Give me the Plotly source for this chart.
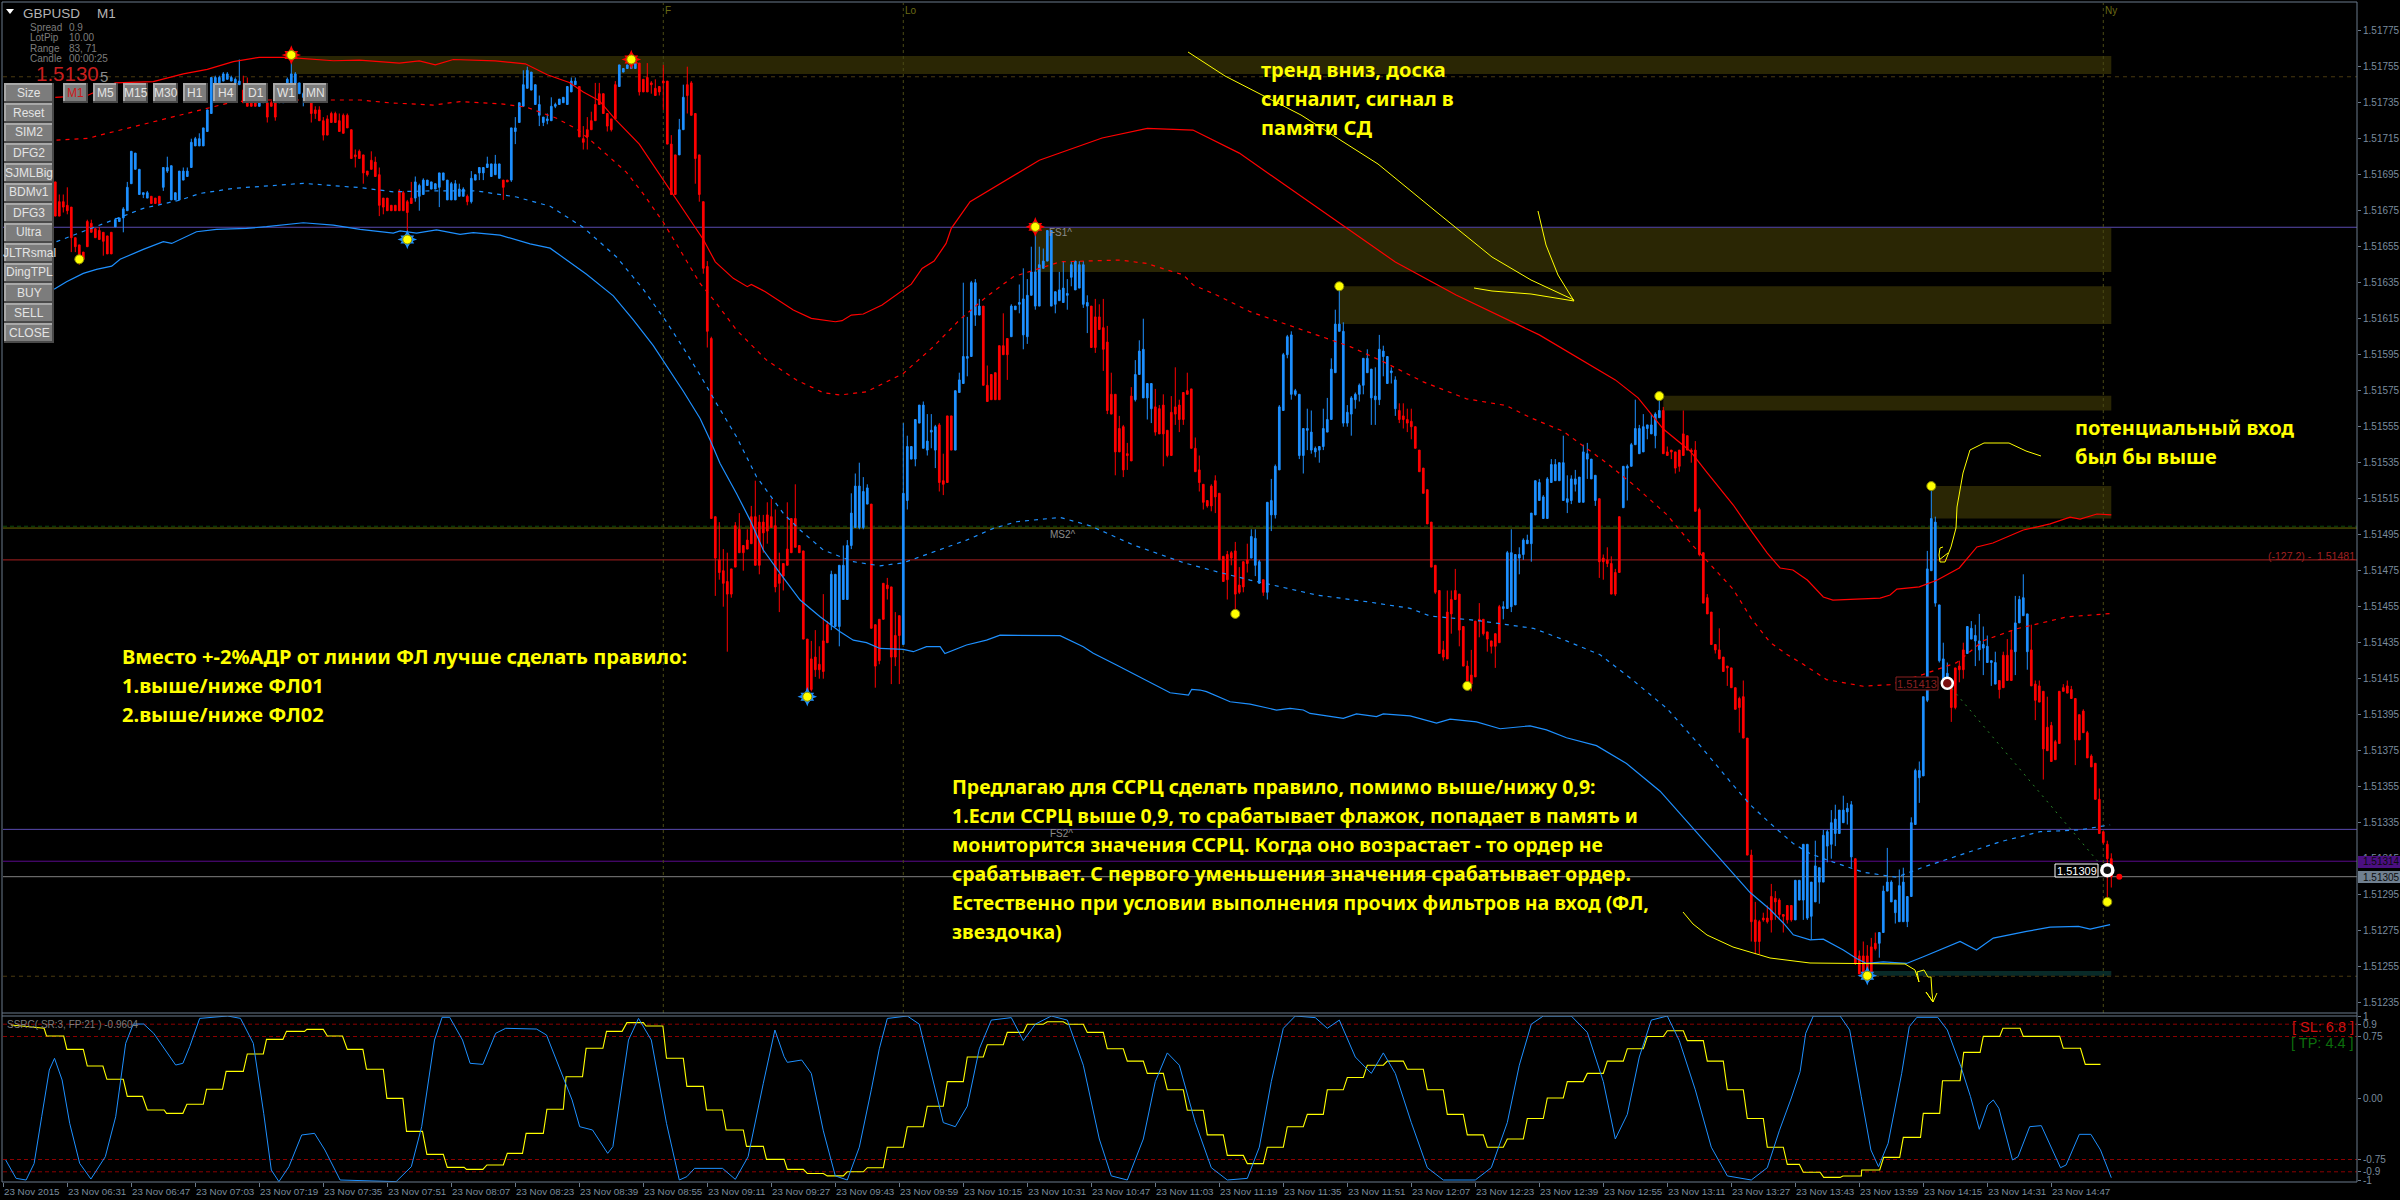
import numpy as np
import plotly.graph_objects as go

W, H = 2400, 1200
BASE = 1.51

# M1 bars from index 13 on, price in points above 1.51000
bar_first = 13
open_pts = [691,680,680,678,677,660,656,652,669,668,665,664,663,661,663,666,669,671,675,690,698,684,684,682,683,682,683,688,697,681,681,681,692,694,699,711,711,711,719,729,746,746,747,748,747,746,745,742,742,738,738,733,735,735,735,735,735,735,746,745,745,740,738,736,735,731,731,725,726,729,729,725,728,728,720,706,708,706,697,703,702,695,682,682,678,678,686,685,680,682,682,683,684,689,687,687,688,692,681,681,681,683,683,683,680,692,696,696,699,694,695,693,692,692,692,719,724,733,743,742,734,728,724,725,725,733,734,735,734,741,745,744,715,720,725,734,740,740,729,726,745,744,752,754,754,754,757,748,749,746,743,744,747,747,712,706,706,720,745,746,729,706,680,644,604,505,481,475,469,476,500,498,489,492,505,505,502,502,506,505,500,473,479,487,504,504,489,486,437,426,427,423,436,445,445,444,444,459,459,489,499,499,499,512,512,445,448,468,467,466,439,450,434,514,537,537,557,543,542,552,542,556,525,561,561,542,574,579,593,594,617,617,622,578,584,585,600,600,604,605,620,623,606,605,628,622,622,643,647,622,623,625,624,628,638,631,632,623,622,622,616,616,610,602,573,573,554,555,540,572,570,584,571,571,565,566,565,567,553,563,566,567,574,575,576,543,531,523,514,522,525,518,483,484,485,486,467,480,481,482,478,468,470,463,506,506,531,564,595,573,573,539,539,553,542,541,542,544,552,559,585,608,557,557,562,570,573,578,585,571,570,570,594,579,585,565,564,561,559,558,555,542,532,520,502,478,464,431,452,459,464,462,444,422,417,447,448,448,441,436,440,455,454,454,455,456,482,484,490,490,506,514,504,504,524,525,525,514,513,514,523,513,513,537,526,514,515,482,481,479,474,505,510,532,533,545,540,541,554,551,550,560,564,541,542,541,542,551,550,542,542,509,485,460,452,434,431,427,422,421,410,404,405,382,317,281,280,282,282,294,293,292,284,289,289,281,292,292,282,283,291,302,302,322,323,329,329,335,341,316,315,261,261,261,266,268,268,274,297,291,285,280,280,280,294,334,360,361,403,475,457,425,414,413,413,421,422,431,429,437,436,431,432,424,424,412,414,428,428,431,430,446,450,430,431,412,411,408,388,389,380,408,410,411,409,404,395,397,385,372,368,348,330,323,315]
high_pts = [691,684,684,688,677,660,656,652,670,670,665,666,663,661,663,671,671,677,691,708,707,698,685,686,683,682,683,699,705,700,685,697,699,699,715,716,718,721,731,749,750,750,752,752,750,749,759,750,749,740,740,740,741,737,736,736,739,743,749,762,752,746,741,742,735,733,733,727,728,730,730,729,729,729,720,709,709,706,697,708,705,699,682,682,678,678,687,686,681,691,694,690,693,692,691,690,696,696,692,691,692,690,688,684,697,695,699,699,705,701,706,701,692,692,721,727,735,753,755,752,745,739,727,729,738,735,737,738,744,749,749,744,722,727,730,746,746,740,729,726,747,756,754,756,759,757,757,748,757,747,748,744,756,747,717,706,726,745,755,747,729,706,680,647,605,505,502,487,485,476,502,507,489,498,511,525,506,506,513,515,509,485,479,513,504,523,489,486,437,436,442,433,462,447,475,473,478,489,492,518,529,535,527,523,512,445,448,468,471,466,452,450,557,550,544,559,567,569,562,562,556,557,540,561,561,575,585,635,616,636,637,626,622,589,584,585,600,618,604,623,622,634,643,637,655,665,655,654,664,664,630,641,647,637,647,647,647,647,628,622,626,623,626,611,585,573,561,556,546,577,592,603,615,579,579,576,567,573,553,572,588,570,574,585,576,549,539,523,514,523,528,518,483,486,486,491,477,480,490,498,498,481,470,513,526,534,567,596,606,608,576,573,554,565,564,544,544,565,571,593,620,632,613,567,572,574,579,593,598,587,588,606,600,594,588,583,568,568,565,565,555,542,532,520,502,478,464,436,464,464,476,462,444,425,431,447,457,448,441,436,440,456,458,486,498,484,488,493,495,507,525,526,517,527,537,537,535,550,528,528,531,527,545,546,537,528,515,484,488,483,476,505,533,534,546,570,556,562,556,562,563,572,566,544,542,541,542,564,550,543,547,510,485,462,452,434,443,427,422,421,410,405,414,382,320,291,281,285,289,301,297,293,284,289,289,303,303,323,323,302,325,310,331,331,342,345,342,350,346,347,315,264,269,267,271,274,274,300,321,303,292,309,310,294,338,365,369,405,486,520,505,456,435,424,413,421,425,435,444,447,445,451,444,439,425,430,414,430,437,442,461,461,473,451,445,414,414,408,405,391,381,408,412,414,411,404,395,398,386,373,368,354,330,325,318]
low_pts = [672,672,674,673,652,652,645,648,655,663,660,659,650,651,651,666,669,663,675,690,698,684,682,682,679,679,679,686,696,681,681,681,692,694,699,711,711,711,719,729,746,746,747,748,747,746,745,735,733,733,733,733,735,724,733,725,735,735,746,745,745,740,733,736,724,726,725,714,717,724,724,719,718,721,704,699,704,690,694,698,694,672,673,675,675,675,675,675,658,679,680,675,684,689,687,687,677,692,681,681,681,683,683,678,679,692,692,692,699,694,695,693,681,691,691,712,724,733,743,742,734,722,722,723,725,732,734,735,734,741,745,716,709,709,720,725,734,729,719,719,726,744,752,754,754,754,739,741,741,740,739,739,731,712,684,684,706,720,729,728,690,680,640,599,504,461,470,455,430,460,477,485,475,487,490,478,473,485,490,499,463,452,464,478,485,488,485,437,405,408,416,415,415,435,442,444,433,459,459,487,499,498,498,512,443,410,423,448,459,412,422,412,434,509,537,533,557,543,539,543,532,519,517,524,542,542,574,579,583,594,611,617,578,569,570,570,570,595,581,605,620,618,598,601,628,620,622,643,647,622,618,625,624,620,633,631,632,621,607,599,596,609,586,562,562,528,541,527,531,536,569,584,571,559,557,550,551,533,538,539,556,552,556,573,543,530,519,509,510,508,507,481,469,459,478,451,462,463,474,482,472,468,461,459,497,504,531,564,593,570,572,537,529,542,540,538,535,542,552,559,585,608,555,555,550,565,569,573,585,556,556,567,583,579,579,561,557,554,552,548,543,530,518,501,477,462,429,425,426,440,459,433,422,410,408,416,438,439,430,429,421,435,448,454,452,456,473,481,490,480,506,514,504,504,524,525,525,514,507,512,519,513,513,526,526,511,471,470,477,462,461,474,510,514,533,545,540,541,548,551,543,560,540,539,537,529,530,539,542,535,508,483,457,451,434,429,426,419,411,410,398,385,382,317,269,262,262,280,279,274,281,281,274,279,280,281,292,281,281,270,291,290,302,313,315,322,329,335,334,310,256,251,251,250,252,264,260,274,297,291,279,280,280,277,294,334,346,361,402,475,455,424,411,411,391,398,413,415,429,437,422,425,417,424,411,412,404,410,414,414,417,446,450,420,411,392,402,359,375,369,370,379,408,407,404,367,381,385,371,366,348,329,323,289,299]
close_pts = [672,672,677,675,660,655,648,648,655,663,660,659,658,651,651,670,671,676,688,708,707,698,685,685,679,679,679,699,699,700,685,697,697,697,713,715,715,721,731,749,749,749,751,751,749,748,747,735,733,733,733,738,740,727,733,727,738,742,748,751,751,746,740,742,729,729,725,717,717,724,724,719,718,721,704,705,704,696,695,698,694,678,677,675,675,675,675,675,674,679,691,689,692,692,691,690,696,696,692,690,690,687,687,680,693,695,699,699,701,701,701,701,688,691,721,721,735,745,753,752,745,734,727,726,733,734,737,738,744,747,747,716,713,716,720,725,734,729,722,720,726,756,754,756,759,757,741,741,741,745,739,741,746,712,684,684,720,738,739,728,704,684,643,608,504,482,474,468,462,462,477,485,485,487,490,478,478,496,497,499,466,468,472,478,485,488,485,437,408,409,420,420,419,435,473,473,478,478,489,507,522,522,519,521,443,422,425,448,465,427,427,439,518,544,544,559,567,567,547,553,555,524,523,524,542,575,581,594,594,635,635,622,578,569,570,570,570,595,595,622,622,624,626,628,641,641,645,647,664,664,630,631,632,629,645,647,645,645,624,599,599,609,598,564,562,541,541,531,539,536,584,597,598,579,579,552,551,551,539,539,562,559,559,573,543,530,524,513,511,511,516,481,469,470,482,462,463,466,479,494,493,480,463,513,514,533,566,595,605,606,575,573,554,554,552,543,544,554,559,587,612,612,608,563,571,573,578,593,593,587,572,598,597,594,586,581,559,559,557,555,543,530,518,501,477,463,429,427,426,451,459,442,422,412,412,416,447,440,437,433,433,435,455,485,485,484,484,492,492,507,525,524,516,526,534,534,535,535,515,526,526,527,541,540,537,528,480,480,479,462,462,474,533,533,545,554,554,555,556,556,562,564,540,539,541,532,533,539,542,541,508,484,457,451,434,431,426,419,421,410,398,399,382,317,280,269,269,281,280,281,291,284,283,281,281,303,303,323,323,302,311,310,328,330,335,337,342,342,343,345,257,251,252,252,252,265,274,297,302,302,292,300,302,294,335,364,364,405,476,504,502,456,426,418,399,399,420,420,444,443,439,436,434,433,425,424,409,410,414,414,446,459,460,451,411,403,402,376,375,369,370,379,408,407,404,381,381,385,371,366,348,329,324,315,305]

# Bands drawn around the session, as (bar, points) pairs
upper_x = [13,21,28,37.5,45,51,57.5,64,71,82.5,89,95,99,104,108,112.5,123,130.5,136,141.5,145,149,153,159,163,170,175,178,182.5,186,187,190.5,192.5,197.5,202,208,209.7,212,215,219.7,227,229.7,232.7,235.7,237,241.7,259,274.7,286,297.4,309,324,348,363.2,384,403,408.7,415,421.7,426,432.5,436.7,441,444.2,447.4,451,455,457.4,469.2,471.7,473.4,479,483.5,489,493.4,497.4,505,511.7,516.7,519.2,523.4,527]
upper_y = [738,739,746,746.7,751,753.5,757.8,760.2,760.2,758.3,758.7,757.8,757,758.2,756,759,758.2,756.6,750.5,746.2,740.9,736.1,725.7,712,698.7,675.8,659,646.6,637.4,632.8,634,630,627.2,619.8,615.2,613.3,613.9,617,617.6,622.6,634.2,642.9,647,656.8,665.2,680,703,715.4,720.7,719.8,707,683.7,646.5,628.2,606,581,571,553.7,541.5,529.3,511.5,498,484.8,476.5,475.4,469.8,460.4,458.7,459.8,461.5,464.8,466,469.8,476.5,488.2,490.4,497.6,501,504.8,503.7,506.5,506]
upper_mid_x = [13.3,21.2,24.2,34.2,50.8,57.5,65.8,89.2,96.7,107.5,114.2,124.2,130.8,138.3,143.3,146.7,155.8,160,165,174.2,178.3,183.3,190.8,198.3,205,209.2,215.8,225,232.5,239,245.8,252.5,264.2,279.2,285.8,295,297.5,303.3,311.7,320,328.3,336.7,345,351.7,355,365.8,375.8,381.7,390,400.8,407.5,415.8,422.5,432.5,437,441.7,445.8,450,455.8,465,471.7,480,488.3,495,503.3,515.8,526.7]
upper_mid_y = [714.2,715.2,717,722.6,731.8,735.5,736.5,736.5,734.9,733.7,735.6,734.4,732.5,726.4,720.4,714.4,696.3,684.3,668.6,634.6,623.5,608.7,592,580.9,573.9,572.6,574.4,584.6,599.4,614.2,627.2,638.3,646.6,647.6,645.7,639.3,633.7,628.2,618.9,612.4,605.9,599.5,591.1,583.7,579.9,570.5,566.7,560.1,552.4,534.9,522.8,506.3,488.7,464.6,448.4,435.2,428.6,423,414.5,410.8,411.7,417.4,423.9,436.1,442.7,449.3,451.2]
lower_mid_x = [13.3,19.6,24.2,35,44.2,49.2,57.5,65.8,75,89.2,97.5,106.7,118.3,128.3,136.7,145,153.3,160,165.8,170,174.2,178.3,183.3,188.3,195,199.2,205,212.5,219.2,225,232.5,240.8,247.5,253.3,264.2,271.7,282.5,295,303.3,311.7,320,328.3,340.8,351.7,356.7,368.3,382.5,390.8,399.2,407.5,415.8,424.2,432.5,436.7,441.7,447.5,451.7,457.5,465,473.3,480,490,499.2,509.2,519.2,526.7]
lower_mid_y = [657.8,663.3,667,676.3,680.9,684.6,687.4,688.9,690.2,687.8,685.5,686,686,682.6,677.5,665.7,649.3,631.3,613.2,598.8,583.7,567.9,549.4,527.2,506.8,497.6,486.5,480,477.7,479.4,485.2,492,498.5,502.2,504.6,500,489.3,479.5,474.5,469.8,465.7,461.5,457.8,454.1,449.8,447.4,443,436,428.3,414,398.7,377.8,355.8,345,334.7,323.4,317.8,313.1,307.5,304.7,310.3,317.8,324.4,330,331,333.8]
lower_x = [12.7,15.8,20,23.3,27.1,29.2,35,40,42.1,48.3,53.3,60.8,65.8,75,82.5,89.2,97.5,99.2,103.3,108.3,114.2,117.5,124.2,131.7,136.7,141.7,145.8,152.5,157.5,162.5,170,174.2,176.7,179.2,183.3,186.7,190,194.2,199.2,204.2,209.2,212.5,215.8,219.2,225,227.5,230.8,234.2,235.4,240.8,245.8,249.2,257.5,264.2,270,272.5,278.3,286.7,291.7,296.3,297.1,299.2,300.8,306.7,311.7,318.3,321.7,325,326.7,335,338.3,343.3,345,351.7,358.3,361.7,368.3,374.2,381.7,385.8,390.8,398.3,405.8,414.2,422.5,432.5,436.7,441.7,445,447.5,451.7,455,460,463.3,465.8,470,475.8,480,489.2,493.3,497.5,505.8,511.7,518.8,521.7,526.7]
lower_y = [631.3,635.5,640.2,642.4,644.2,648,653.5,657.8,656.8,663.3,664.6,665.2,666.1,668.3,667,664.6,662.6,663.8,662.6,664.3,661.9,662.8,661.4,656.6,654.2,646.5,639.7,627.7,614.4,600,574.7,559.6,547.6,534.6,517.9,503.1,486.5,473.5,458.7,449.4,441.1,436.4,435,431.8,431.3,430,432.8,432.8,429,433.7,436.4,439.2,438.9,438.9,432.8,429.1,422.6,413,407.2,405.9,409.1,408.7,407.8,402.2,400.9,397.6,398.5,397.6,395.7,393,395.4,393.9,395.4,394.3,390.3,392.5,391,387.2,388.8,386.6,382.2,377.8,367.9,352.5,331.7,306.4,296.2,286.8,279.3,272.7,269.9,270.3,264.3,259.6,256.8,257.7,256.8,260.5,269,264.3,270.9,274.6,277,277.4,275.9,278.4]

# Oscillator panel
osc_blue_x = [0.6,3.2,5.7,7.7,9.6,11.5,12.8,14.7,16.6,19.1,21.9,25.5,28.1,30.6,32.5,35.1,37.6,41.5,43.1,44.9,46.6,49.1,56.1,59.3,62.5,65.1,67,68.9,71.4,74.6,77.8,80.4,84.2,98.2,102,104.6,107.8,109.7,111.6,114.8,116.7,119.9,123.1,125.6,133.3,135.8,139,142.2,144.1,147.3,151.1,152.4,156.3,158.8,162,165.8,169,170.9,172.8,179.8,183,186.2,190,192.9,195.2,196,199.6,202,205,208,211,214,217,219,221,226,229,232,235,238,241,244,247,252,255,258,262,266,270,274,277,281,285,288,291,294,298,302,306,311,314,317,320,323,328,331,334,338,342,345,348,352,356,360,368,372,376,379,382,385,392,396,400,403,406,409,412,416,419,423,427,431,437,441,444,447,449.2,450.6,452.5,459.2,461.6,464.5,466.9,468.8,471.2,474.6,476.5,478.4,483.6,486,489.4,491.8,494,496.1,497.5,498.9,502.3,503.7,506.6,509.5,514.3,515.7,519,521.9,524.3,527]
osc_blue_y = [-0.756,-0.98,-1.0,-0.8,-0.228,0.341,0.484,0.22,-0.309,-0.797,-0.988,-0.716,-0.228,0.667,0.902,0.902,0.789,0.504,0.402,0.423,0.626,0.971,1.0,0.971,0.667,-0.187,-0.878,-1.02,-0.838,-0.451,-0.431,-0.634,-1.0,-1.02,-0.838,-0.35,0.707,0.984,0.984,0.707,0.423,0.41,0.789,0.85,0.841,0.768,0.382,-0.024,-0.35,-0.39,-0.675,-0.593,0.707,0.971,0.707,-0.309,-1.0,-0.959,-0.858,-0.858,-0.992,-0.716,0.179,0.829,0.504,0.435,0.463,0.3,-0.4,-0.95,-1,-0.6,0.1,0.6,0.97,1,0.9,0.3,-0.3,-0.35,-0.1,0.6,0.95,0.98,0.7,0.9,1,0.95,0.4,-0.5,-0.95,-1,-0.5,0.2,0.55,0.4,-0.3,-0.85,-1,-0.98,-0.6,0.2,0.85,1,0.98,0.85,0.95,0.5,0.3,0.55,0.3,-0.3,-0.85,-1,-1,-0.85,-0.3,0.4,0.9,1,1,0.8,0.2,-0.5,-0.2,0.5,0.95,1,0.7,0.1,-0.6,-0.95,-1,-0.85,-0.4,0,0.321,0.789,1.0,1.0,0.829,0.016,-0.634,-0.837,-0.553,0.301,0.87,0.984,0.984,0.829,0.382,0.016,-0.382,-0.085,-0.024,-0.126,-0.756,-0.715,-0.35,-0.337,-0.85,-0.817,-0.443,-0.443,-0.634,-0.972]
osc_yellow_x = [1.9,10.2,10.8,15.1,15.9,20,21,24.9,25.9,30,31,34.8,36,40.2,40.8,44.9,45.9,50,50.8,54.8,55.7,60,61,65,65.8,69.9,70.8,75.3,75.9,80,81,84.8,86,89.9,90.8,95,95.9,99.9,100.8,104.8,105.9,110,111,115.2,115.8,119.9,120.9,125,126,129.8,130.7,135,135.9,140,140.7,144.8,145.7,149.9,150.8,154.7,155.9,160,160.7,164.9,165.8,170,170.9,175,175.8,179.8,180.7,185,185.8,190,190.8,195.2,196,200,
                201,205,206,210,211,215,216,220,221,225,226,230,231,235,236,240,241,245,246,250,251,255,256,260,261,265,266,270,271,275,276,280,281,285,286,290,291,295,296,300,301,305,306,310,311,315,316,320,321,325,326,330,331,335,336,340,341,345,346,350,351,355,356,360,361,365,366,370,371,375,376,380,381,385,386,390,391,395,396,400,401,405,406,410,411,415,416,420,421,425,426,430,431,435,436,440,441,445,446,449,
                450,454.2,455.1,459.2,459.9,464.5,464.6,469.1,470.1,474.1,475,479.3,480,484.1,484.8,489.2,490.1,494.2,495,499.1,499.9,504.2,505,514.1,515,519.3,520.5,524.3,525.1,527]
osc_yellow_y = [0.89,0.85,0.756,0.756,0.593,0.593,0.39,0.39,0.228,0.228,0.02,0.02,-0.146,-0.146,-0.187,-0.187,-0.077,-0.077,0.106,0.106,0.325,0.325,0.537,0.537,0.715,0.715,0.813,0.813,0.837,0.837,0.756,0.756,0.593,0.593,0.35,0.35,-0.004,-0.004,-0.407,-0.407,-0.687,-0.687,-0.846,-0.846,-0.87,-0.87,-0.817,-0.817,-0.675,-0.675,-0.431,-0.431,-0.138,-0.138,0.26,0.26,0.606,0.606,0.813,0.813,0.919,0.919,0.878,0.878,0.484,0.484,0.142,0.142,-0.146,-0.146,-0.39,-0.39,-0.59,-0.59,-0.748,-0.748,-0.87,-0.87,
                -0.92,-0.92,-0.95,-0.95,-0.9,-0.9,-0.85,-0.85,-0.6,-0.6,-0.35,-0.35,-0.1,-0.1,0.2,0.2,0.5,0.5,0.65,0.65,0.8,0.8,0.9,0.9,0.93,0.93,0.9,0.9,0.8,0.8,0.6,0.6,0.45,0.45,0.3,0.3,0.1,0.1,-0.15,-0.15,-0.45,-0.45,-0.7,-0.7,-0.8,-0.8,-0.6,-0.6,-0.35,-0.35,-0.2,-0.2,0.1,0.1,0.25,0.25,0.4,0.4,0.45,0.45,0.35,0.35,0.1,0.1,-0.2,-0.2,-0.45,-0.45,-0.6,-0.6,-0.5,-0.5,-0.25,-0.25,0,0,0.2,0.2,0.3,0.3,0.45,0.45,0.6,0.6,0.75,0.75,0.82,0.82,0.7,0.7,0.45,0.45,0.1,0.1,-0.25,-0.25,-0.6,-0.6,
                -0.809,-0.809,-0.906,-0.906,-0.968,-0.968,-0.951,-0.951,-0.878,-0.878,-0.724,-0.724,-0.48,-0.48,-0.187,-0.187,0.211,0.211,0.557,0.557,0.752,0.752,0.85,0.85,0.752,0.752,0.606,0.606,0.41,0.41]

# Supply and demand zones: start bar, end bar, bottom, top (points)
zone_start = [72,258,334,415,482]
zone_bottom = [751,641,612,564,504]
zone_top = [761,665.4,633,572.2,522]
zone_end_bar = 527
demand_start, demand_bottom, demand_top = 467, 250, 252.6

# Horizontal levels (points)
fs_levels = [665.8, 331.3]
ms_level = 498.7
ms_dash_level = 499.7
fib_level = 481
pivot_level = 313.6
bid_level = 305
swing_high_level = 749.4
swing_low_level = 249.7

# Swing markers (bar, points)
red_star_x, red_star_y = [72,157,258], [761.5,759,666]
blue_star_x, blue_star_y = [101,201,466], [659,405,250]
plain_star_x, plain_star_y = [19,334,308,366,414,482,526], [648,633,451,411,572,522,291]

session_bars = [165,225,525]
session_names = ["F","Lo","Ny"]

price_ticks = [775,755,735,715,695,675,655,635,615,595,575,555,535,515,495,475,455,435,415,395,375,355,335,315,295,275,255,235]
osc_ticks = [1,0.9,0.75,0,-0.75,-0.9,-1]
osc_tick_text = ["1","0.9","0.75","0.00","-0.75","-0.9","-1"]
time_bars = list(range(0,528,16))
time_text = ["23 Nov 2015","23 Nov 06:31","23 Nov 06:47","23 Nov 07:03","23 Nov 07:19","23 Nov 07:35","23 Nov 07:51","23 Nov 08:07","23 Nov 08:23","23 Nov 08:39","23 Nov 08:55","23 Nov 09:11","23 Nov 09:27","23 Nov 09:43","23 Nov 09:59","23 Nov 10:15","23 Nov 10:31","23 Nov 10:47","23 Nov 11:03","23 Nov 11:19","23 Nov 11:35","23 Nov 11:51","23 Nov 12:07","23 Nov 12:23","23 Nov 12:39","23 Nov 12:55","23 Nov 13:11","23 Nov 13:27","23 Nov 13:43","23 Nov 13:59","23 Nov 14:15","23 Nov 14:31","23 Nov 14:47"]

side_buttons = ["Size","Reset","SIM2","DFG2","SJMLBig","BDMv1","DFG3","Ultra","JLTRsmal","DingTPL","BUY","SELL","CLOSE"]
tf_buttons = ["M1","M5","M15","M30","H1","H4","D1","W1","MN"]

note_trend = ["тренд вниз, доска","сигналит, сигнал в","памяти СД"]
note_entry = ["потенциальный вход","был бы выше"]
note_rule = ["Вместо +-2%АДР от линии ФЛ лучше сделать правило:","1.выше/ниже ФЛ01","2.выше/ниже ФЛ02"]
note_ssrc = ["Предлагаю для ССРЦ сделать правило, помимо выше/нижу 0,9:",
             "1.Если ССРЦ выше 0,9, то срабатывает флажок, попадает в память и",
             "мониторится значения ССРЦ. Когда оно возрастает - то ордер не",
             "срабатывает. С первого уменьшения значения срабатывает ордер.",
             "Естественно при условии выполнения прочих фильтров на вход (ФЛ,",
             "звездочка)"]

# Freehand strokes on the chart, in canvas pixels
stroke_trend = [(1188,52),(1225,76),(1301,115),(1378,164),(1439,214),(1492,257),(1531,280),(1574,300)]
stroke_trend2 = [(1538,211),(1546,245),(1558,275),(1574,301),(1531,294),(1492,291),(1474,288)]
stroke_entry = [(2041,456),(2026,451),(2009,443),(1984,443),(1970,450),(1963,473),(1957,507),(1956,528),(1951,547),(1945,562),(1940,562),(1939,555),(1940,548),(1943,547)]
stroke_entry2 = [(1939,560),(1948,553)]
stroke_low = [(1683,912),(1693,924),(1707,935),(1733,947),(1760,955),(1770,958),(1810,963),(1905,964),(1915,970),(1919,982),(1917,972),(1924,970),(1928,977),(1931,977),(1932,993),(1933,1002),(1926,992),(1933,1002),(1937,993)]

GOLD = "#ffff00"
RED = "#ff0000"
BLUE = "#1e90ff"
FRAME = "#6a7a8c"
AXIS_TEXT = "#7a8c9e"
ZONE = "#2a2604"
TEXT_FONT = "Noto Sans"
SMALL_FONT = "Liberation Sans"

X0, X1 = 3, 2357
MAIN_TOP, MAIN_BOTTOM = 3, 1013
SUB_TOP, SUB_BOTTOM = 1016, 1182


def px(x):
    return x / W


def py(y):
    return 1 - y / H


def price(pts):
    return BASE + np.asarray(pts, dtype=float) / 1e5


bar_range = [(X0 - 3.3) / 4, (X1 - 3.3) / 4]
main_range = [BASE + (535 - (MAIN_BOTTOM - 462.7) / 1.8) / 1e5, BASE + (535 + (462.7 - MAIN_TOP) / 1.8) / 1e5]
sub_range = [(1098 - SUB_BOTTOM) / 82, (1098 - SUB_TOP) / 82]

bars = list(range(bar_first, bar_first + len(open_pts)))
fig = go.Figure()
fig.add_trace(go.Candlestick(
    x=bars, open=price(open_pts), high=price(high_pts), low=price(low_pts), close=price(close_pts),
    increasing=dict(line=dict(color=BLUE, width=1), fillcolor=BLUE),
    decreasing=dict(line=dict(color=RED, width=1), fillcolor=RED),
    whiskerwidth=0, hoverinfo="skip", xaxis="x", yaxis="y", showlegend=False))


def line(xs, ys, color, width=1.0, dash=None, xaxis="x", yaxis="y"):
    fig.add_trace(go.Scatter(x=xs, y=ys, mode="lines", line=dict(color=color, width=width, dash=dash or "solid"),
                             hoverinfo="skip", showlegend=False, xaxis=xaxis, yaxis=yaxis))


line(upper_x, price(upper_y), RED, 1.2)
line(upper_mid_x, price(upper_mid_y), RED, 1.2, "4px,5px")
line(lower_mid_x, price(lower_mid_y), BLUE, 1.2, "4px,5px")
line(lower_x, price(lower_y), BLUE, 1.2)

# Trade projection between the two entry rings
line([486, 525.5], price([412.5, 308.6]), "#2a8a2a", 1, "2px,5px")

# Oscillator traces
line(osc_yellow_x, osc_yellow_y, GOLD, 1.1, xaxis="x2", yaxis="y2")
line(osc_blue_x, osc_blue_y, BLUE, 1.0, xaxis="x2", yaxis="y2")


def stars(xs, ys, ring):
    if ring:
        fig.add_trace(go.Scatter(x=xs, y=price(ys), mode="markers", hoverinfo="skip", showlegend=False,
                                 marker=dict(symbol="star-diamond", size=14, color=ring, line=dict(width=0))))
        fig.add_trace(go.Scatter(x=xs, y=price(ys), mode="markers", hoverinfo="skip", showlegend=False,
                                 marker=dict(symbol="hexagram", size=12, color=ring, line=dict(width=0))))
    fig.add_trace(go.Scatter(x=xs, y=price(ys), mode="markers", hoverinfo="skip", showlegend=False,
                             marker=dict(symbol="circle", size=9, color=GOLD, line=dict(width=1, color="#8a8a00"))))


stars(red_star_x, red_star_y, RED)
stars(blue_star_x, blue_star_y, BLUE)
stars(plain_star_x, plain_star_y, None)

# Entry rings and the bid dot
fig.add_trace(go.Scatter(x=[486], y=price([412.5]), mode="markers", hoverinfo="skip", showlegend=False,
                         marker=dict(symbol="circle", size=11, color="#7a1010", line=dict(width=2.5, color="white"))))
fig.add_trace(go.Scatter(x=[526], y=price([308.6]), mode="markers", hoverinfo="skip", showlegend=False,
                         marker=dict(symbol="circle", size=11, color="#101010", line=dict(width=3.5, color="white"))))
fig.add_trace(go.Scatter(x=[529], y=price([bid_level]), mode="markers", hoverinfo="skip", showlegend=False,
                         marker=dict(symbol="circle", size=6, color=RED, line=dict(width=0))))

shapes = []
for s, b, t in zip(zone_start, zone_bottom, zone_top):
    shapes.append(dict(type="rect", x0=s, x1=zone_end_bar, y0=float(price(b)), y1=float(price(t)), xref="x", yref="y",
                       fillcolor=ZONE, line_width=0, layer="below"))
shapes.append(dict(type="rect", x0=demand_start, x1=zone_end_bar, y0=float(price(demand_bottom)), y1=float(price(demand_top)),
                   xref="x", yref="y", fillcolor="#082a28", line_width=0, layer="below"))


def hline(pts, color, width=1, dash="solid"):
    shapes.append(dict(type="line", x0=bar_range[0], x1=bar_range[1], y0=float(price(pts)), y1=float(price(pts)),
                       xref="x", yref="y", line=dict(color=color, width=width, dash=dash), layer="below"))


for lv in fs_levels:
    hline(lv, "#5a4bb0")
hline(ms_level, "#6a6a00")
hline(ms_dash_level, "#0c4a0c", 1, "4px,3px")
hline(fib_level, "#a82020")
hline(pivot_level, "#5b0a8c")
hline(bid_level, "#808080")
hline(swing_high_level, "#4a3a10", 1, "4px,4px")
hline(swing_low_level, "#4a3a10", 1, "4px,4px")

for b in session_bars:
    shapes.append(dict(type="line", x0=b, x1=b, y0=main_range[0], y1=main_range[1], xref="x", yref="y",
                       line=dict(color="#4a4a14", width=1, dash="3px,3px"), layer="below"))
for v in [0.9, 0.75, -0.75, -0.9]:
    shapes.append(dict(type="line", x0=bar_range[0], x1=bar_range[1], y0=v, y1=v, xref="x2", yref="y2",
                       line=dict(color="#8b0000", width=1, dash="4px,3px"), layer="below"))

# Window frame
for (a, b, c, d) in [(2, 2, 2, 1182), (2, 2, 2357, 2), (2357, 2, 2357, 1182), (2, 1013, 2357, 1013), (2, 1016, 2357, 1016), (2, 1182, 2357, 1182)]:
    shapes.append(dict(type="line", x0=px(a), x1=px(c), y0=py(b), y1=py(d), xref="paper", yref="paper",
                       line=dict(color=FRAME, width=1)))


def stroke(points, width=1.0):
    path = "M " + " L ".join(f"{px(x):.5f} {py(y):.5f}" for x, y in points)
    shapes.append(dict(type="path", path=path, xref="paper", yref="paper", line=dict(color=GOLD, width=width)))


for st in (stroke_trend, stroke_trend2, stroke_entry, stroke_entry2, stroke_low):
    stroke(st)


def box(x0, y0, x1, y1, fill, color=None, width=0):
    shapes.append(dict(type="rect", x0=px(x0), x1=px(x1), y0=py(y1), y1=py(y0), xref="paper", yref="paper",
                       fillcolor=fill, line=dict(color=color or fill, width=width)))


annotations = []


def text(x, y, s, color, size, anchor="left", font=SMALL_FONT, bold=False):
    annotations.append(dict(x=px(x), y=py(y), xref="paper", yref="paper", text=f"<b>{s}</b>" if bold else s,
                            showarrow=False, xanchor=anchor, yanchor="middle", align=anchor,
                            font=dict(color=color, size=size, family=font), borderpad=0, borderwidth=0))


def button(x0, y0, x1, y1, label, color="#e4e4e4"):
    box(x0, y0, x1, y1, "#4a4a4a")
    box(x0, y0, x1 - 2, y1 - 2, "#a8a8a8")
    box(x0 + 2, y0 + 2, x1 - 2, y1 - 2, "#7c7c7c")
    text((x0 + x1) / 2, (y0 + y1) / 2 - 0.5, label, color, 12, "center")


for k, name in enumerate(side_buttons):
    button(4, 83 + 20 * k, 54, 103 + 20 * k, name)
for k, name in enumerate(tf_buttons):
    button(63 + 30 * k, 83, 88 + 30 * k, 103, name, "#d01818" if name == "M1" else "#e4e4e4")

# Quote block in the top left corner
shapes.append(dict(type="path", path=f"M {px(6):.5f} {py(9):.5f} L {px(14):.5f} {py(9):.5f} L {px(10):.5f} {py(14):.5f} Z",
                   xref="paper", yref="paper", fillcolor="white", line_width=0))
text(23, 13, "GBPUSD", "#b4b4b4", 13.5)
text(97, 13, "M1", "#b4b4b4", 13.5)
for row, (k, v) in enumerate([("Spread", "0.9"), ("LotPip", "10.00"), ("Range", "83, 71"), ("Candle", "00:00:25")]):
    text(30, 28 + 10 * row, k, "#7c7c7c", 10)
    text(69, 28 + 10 * row, v, "#7c7c7c", 10)
text(36, 74, "1.5130", "#c81e1e", 20.5)
text(100, 76, "5", "#8c8c8c", 15)

# Session labels and level tags
for b, name in zip(session_bars, session_names):
    text(3.3 + 4 * b + 2, 11, name, "#6a6a14", 10)
text(1049, 232, "FS1^", "#8c8c8c", 10)
text(1050, 534, "MS2^", "#8c8c8c", 10)
text(1050, 834, "FS2^", "#8c8c8c", 10)
text(2355, 556, "(-127.2) -  1.51481", "#a02020", 10.5, "right")
text(7, 1024, "SSRC( SR:3, FP:21 ) -0.9604", "#7c7c7c", 10)
text(2354, 1027, "[ SL: 6.8 ]", "#d01010", 14.5, "right")
text(2354, 1043, "[ TP: 4.4 ]", "#0c6e0c", 14.5, "right")

box(2358, 856, 2400, 868, "#4b0f82")
text(2363, 861.5, "1.51314", "#0c0c0c", 10)
box(2358, 871, 2400, 883, "#708090")
text(2363, 877, "1.51305", "#0c0c0c", 10)

box(1896, 677, 1938, 690, "#000000", "#8a2020", 1)
text(1917, 683.5, "1.51413", "#8a2020", 11, "center")
box(2055, 864, 2098, 877, "#000000", "#ffffff", 1)
text(2076.5, 870.5, "1.51309", "#ffffff", 11, "center")

for tb, tt in zip(time_bars, time_text):
    annotations.append(dict(x=tb, y=py(1191.5), xref="x2", yref="paper", text=tt, showarrow=False, xanchor="left",
                            yanchor="middle", xshift=-1, font=dict(color=AXIS_TEXT, size=9.8, family=SMALL_FONT)))

# Russian trading notes
NOTE_COLOR = GOLD
for k, s in enumerate(note_trend):
    text(1261, 69 + 29 * k, s, NOTE_COLOR, 20, font=TEXT_FONT, bold=True)
for k, s in enumerate(note_entry):
    text(2075, 427 + 29.5 * k, s, NOTE_COLOR, 20, font=TEXT_FONT, bold=True)
for k, s in enumerate(note_rule):
    text(122, 656 + 29 * k, s, NOTE_COLOR, 20.1, font=TEXT_FONT, bold=True)
for k, s in enumerate(note_ssrc):
    text(952, 786.5 + 29 * k, s, NOTE_COLOR, 19.5, font=TEXT_FONT, bold=True)

fig.update_layout(
    width=W, height=H, margin=dict(l=0, r=0, t=0, b=0, autoexpand=False), paper_bgcolor="black", plot_bgcolor="black",
    showlegend=False, boxgap=0.4, shapes=shapes, annotations=annotations, hovermode=False,
    xaxis=dict(domain=[px(X0), px(X1)], range=bar_range, visible=False, rangeslider=dict(visible=False), anchor="y", fixedrange=True),
    yaxis=dict(domain=[py(MAIN_BOTTOM), py(MAIN_TOP)], range=main_range, side="right", anchor="x", showgrid=False, zeroline=False,
               tickvals=[float(price(t)) for t in price_ticks], ticktext=[f"{float(price(t)):.5f}" for t in price_ticks],
               tickfont=dict(color=AXIS_TEXT, size=10, family=SMALL_FONT), ticks="outside", ticklen=3, tickcolor=FRAME, fixedrange=True),
    xaxis2=dict(domain=[px(X0), px(X1)], range=bar_range, anchor="y2", showgrid=False, zeroline=False, showline=False,
                tickvals=time_bars, ticktext=[""] * len(time_bars), ticks="outside", ticklen=4, tickcolor=FRAME, fixedrange=True),
    yaxis2=dict(domain=[py(SUB_BOTTOM), py(SUB_TOP)], range=sub_range, side="right", anchor="x2", showgrid=False, zeroline=False,
                tickvals=osc_ticks, ticktext=osc_tick_text, tickfont=dict(color=AXIS_TEXT, size=10, family=SMALL_FONT),
                ticks="outside", ticklen=3, tickcolor=FRAME, fixedrange=True),
)

fig.write_html("out.html", config=dict(displayModeBar=False))
